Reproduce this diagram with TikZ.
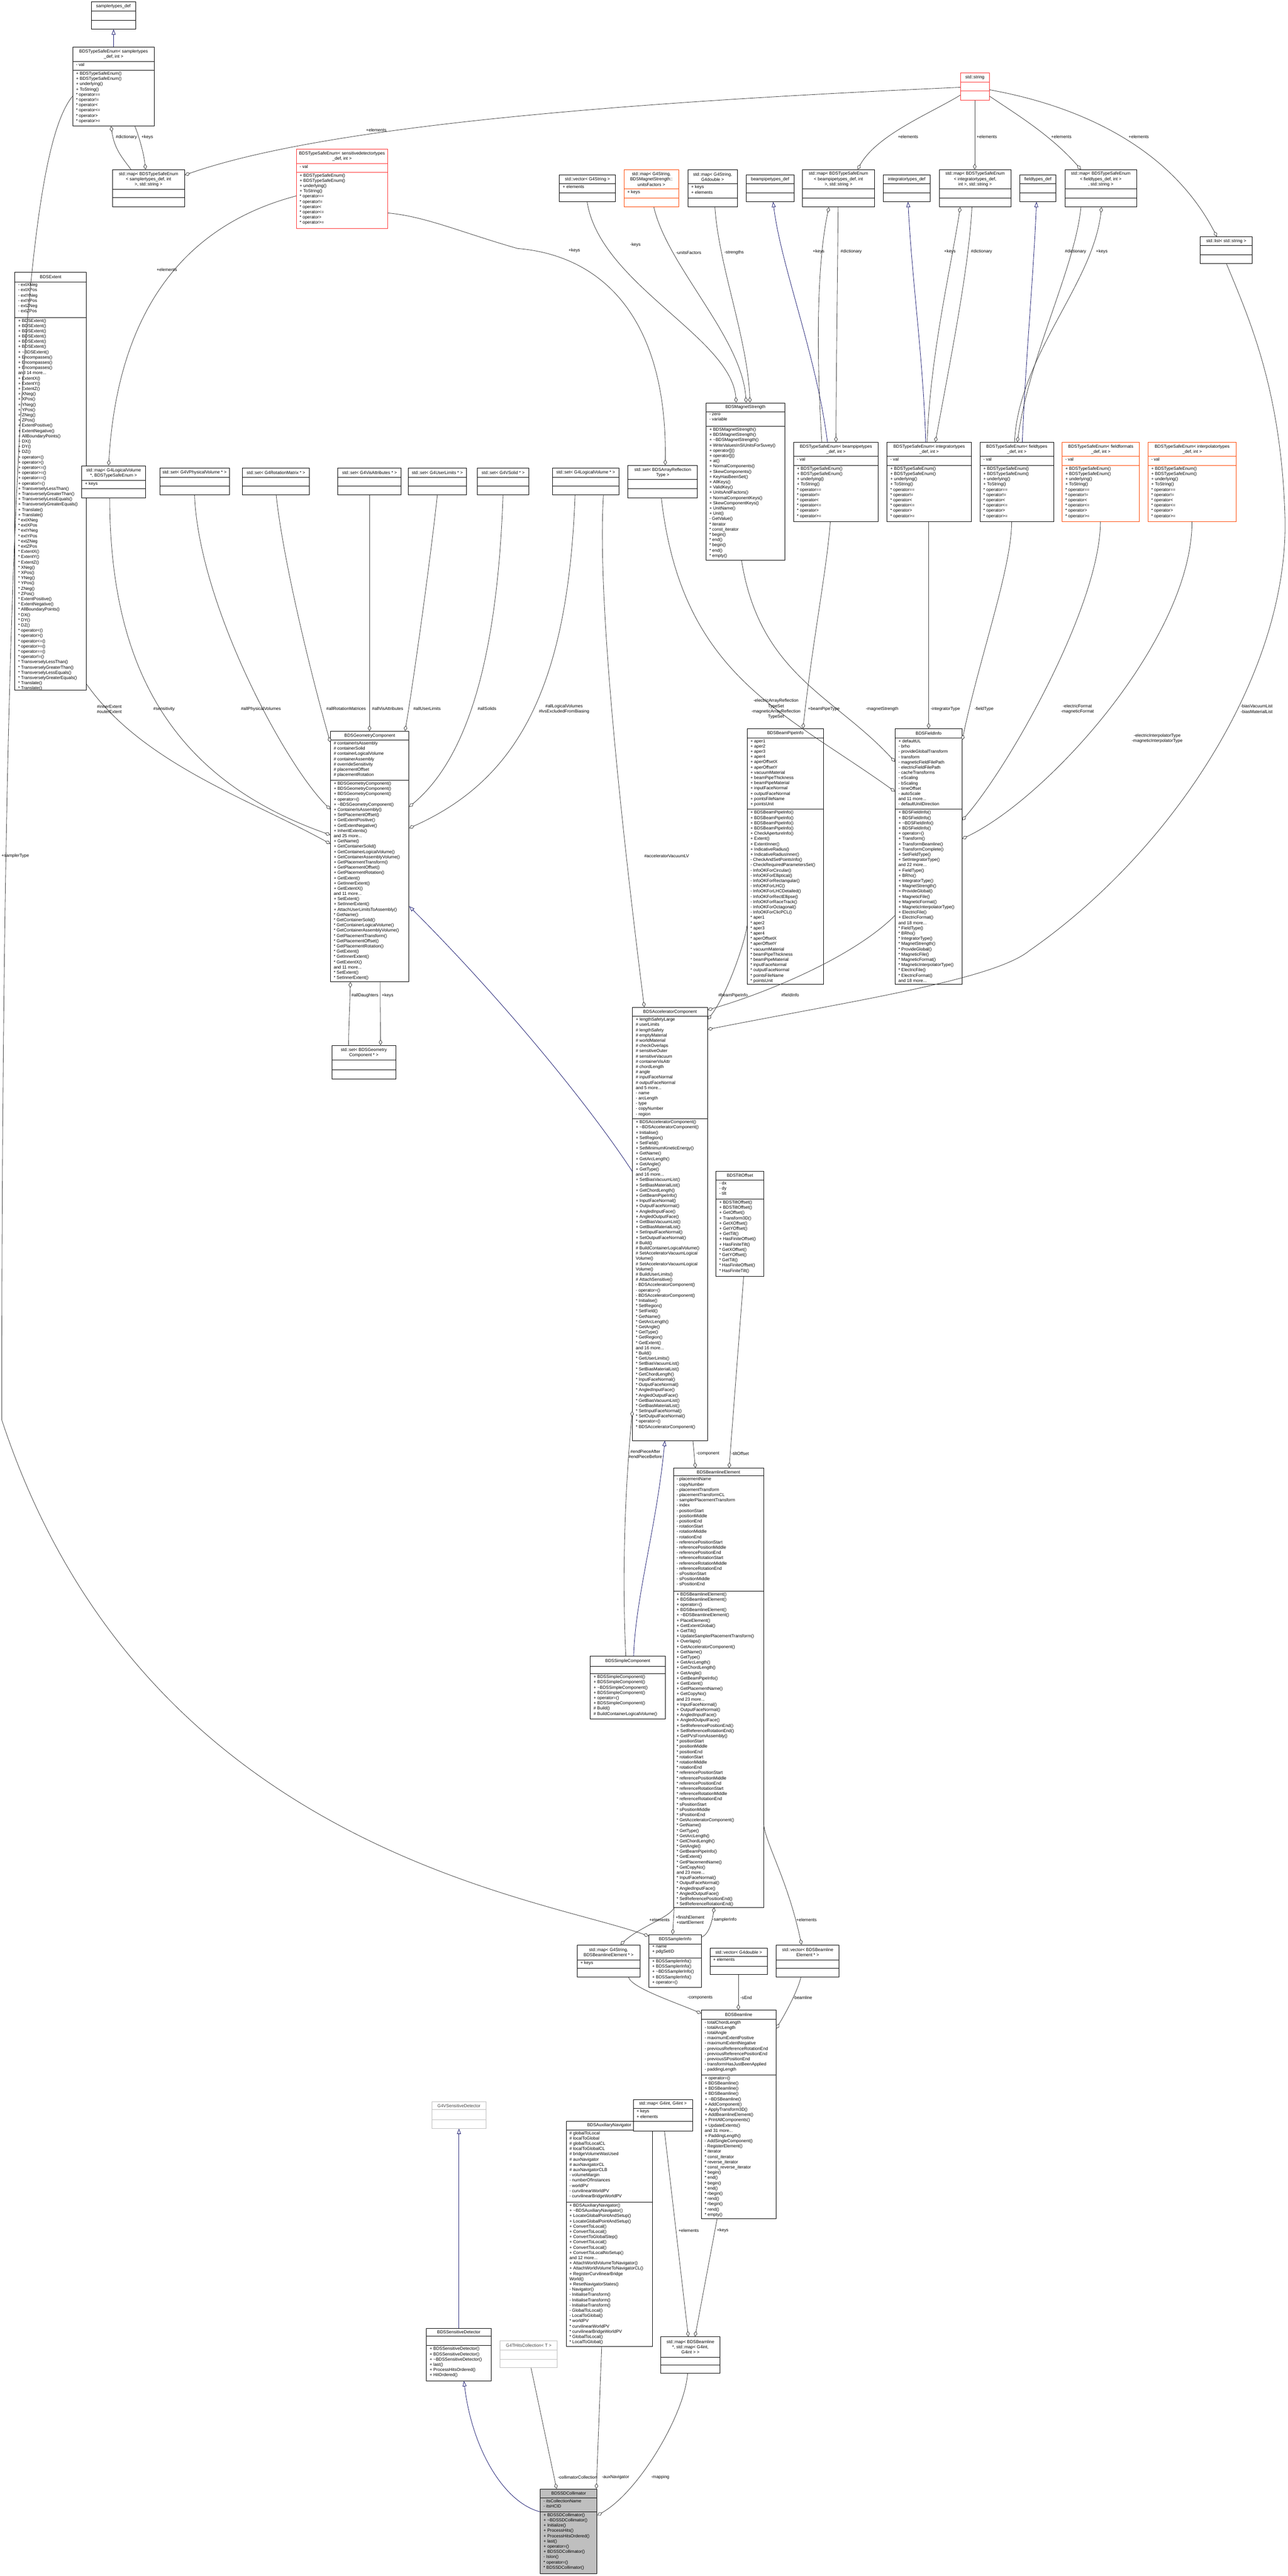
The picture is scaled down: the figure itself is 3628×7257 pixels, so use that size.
\documentclass[tikz,border=0pt]{standalone}
\usepackage{fontspec}
\setmainfont{Liberation Sans}
\usetikzlibrary{fit,arrows.meta}
\definecolor{edgec}{HTML}{404040}
\definecolor{inhc}{HTML}{191970}
\definecolor{redc}{HTML}{FF3030}
\definecolor{orc}{HTML}{FF4500}
\definecolor{grayc}{HTML}{BFBFBF}
\newcommand\umlfont{\fontsize{12.3}{14.8}\selectfont}
\tikzset{
  umlrect/.style={inner sep=0pt, line width=1.3pt, fill=white},
  utitle/.style={align=center, inner sep=0pt, font=\umlfont},
  ulist/.style={align=left, anchor=north west, inner sep=0pt, font=\umlfont},
  lbl/.style={inner sep=0pt, font=\umlfont, align=center},
  agg/.style={draw=edgec, line width=1.2pt, {Diamond[open,fill=white,length=16pt,width=10pt]}-},
  inh/.style={draw=inhc, line width=1.2pt, {Triangle[open,fill=white,length=15pt,width=11pt]}-},
}
\newcommand\ubox[9]{%
  \node[umlrect, draw=#1, fit={(#3,#4)(#5,#8)}] (#2) {};
  \draw[draw=#1, line width=1.3pt] (#3,#6) -- (#5,#6) (#3,#7) -- (#5,#7);
  \node[utitle] (#2-t) at ({(#3+#5)/2},{(#4+#6)/2}) {#9};
  \def\ux{#3}\def\uyh{#6}\def\uya{#7}\def\uname{#2}}
\newcommand\uatt[1]{\node[ulist] (\uname-a) at ({\ux+9},{\uyh+4}) {#1};}
\newcommand\umeth[1]{\node[ulist] (\uname-m) at ({\ux+9},{\uya+4}) {#1};}
\newcommand\enummeth{\umeth{+ BDSTypeSafeEnum()\\+ BDSTypeSafeEnum()\\+ underlying()\\+ ToString()\\{}* operator==\\{}* operator!=\\{}* operator<\\{}* operator<=\\{}* operator>\\{}* operator>=}}
\begin{document}
\begin{tikzpicture}[x=1pt,y=-1pt]
\useasboundingbox (0,0) rectangle (3628,7257);
\fill[white] (0,0) rectangle (3628,7257);

% ---------- top ----------
\ubox{black}{sdef}{257}{5}{382}{31}{57}{82}{samplertypes\_def}
\ubox{black}{esam}{205}{132}{435}{173}{198}{355}{BDSTypeSafeEnum< samplertypes\\\_def, int >}
\uatt{- val}\enummeth
\ubox{black}{msam}{317}{478}{520}{533}{557}{583}{std::map< BDSTypeSafeEnum\\< samplertypes\_def, int\\>, std::string >}
\ubox{redc}{esd}{835}{420}{1092}{461}{485}{643}{BDSTypeSafeEnum< sensitivedetectortypes\\\_def, int >}
\uatt{- val}\enummeth

\ubox{redc}{str}{2706}{205}{2787}{231}{256}{282}{std::string}
\ubox{black}{vgs}{1576}{493}{1734}{518}{543}{568}{std::vector< G4String >}
\uatt{+ elements}
\ubox{orc}{muf}{1758}{478}{1912}{532}{558}{583}{std::map< G4String,\\BDSMagnetStrength::\\unitsFactors >}
\uatt{+ keys}
\ubox{black}{mgd}{1938}{478}{2077}{518}{558}{583}{std::map< G4String,\\G4double >}
\uatt{+ keys\\+ elements}
\ubox{black}{bdef}{2102}{493}{2237}{518}{543}{568}{beampipetypes\_def}
\ubox{black}{mbp}{2261}{478}{2463}{532}{558}{583}{std::map< BDSTypeSafeEnum\\< beampipetypes\_def, int\\>, std::string >}
\ubox{black}{idef}{2488}{493}{2621}{518}{543}{568}{integratortypes\_def}
\ubox{black}{mit}{2646}{478}{2848}{532}{558}{583}{std::map< BDSTypeSafeEnum\\< integratortypes\_def,\\int >, std::string >}
\ubox{black}{fdef}{2873}{493}{2975}{518}{543}{568}{fieldtypes\_def}
\ubox{black}{mft}{3000}{478}{3202}{532}{558}{583}{std::map< BDSTypeSafeEnum\\< fieldtypes\_def, int >\\, std::string >}
\ubox{black}{lst}{3381}{667}{3528}{692}{717}{742}{std::list< std::string >}

% ---------- second band ----------
\ubox{black}{ext}{42}{767}{243}{794}{894}{1944}{BDSExtent}
\uatt{- extXNeg\\- extXPos\\- extYNeg\\- extYPos\\- extZNeg\\- extZPos}
\umeth{+ BDSExtent()\\+ BDSExtent()\\+ BDSExtent()\\+ BDSExtent()\\+ BDSExtent()\\+ BDSExtent()\\+ \textasciitilde BDSExtent()\\+ Encompasses()\\+ Encompasses()\\+ Encompasses()\\and 14 more...\\+ ExtentX()\\+ ExtentY()\\+ ExtentZ()\\+ XNeg()\\+ XPos()\\+ YNeg()\\+ YPos()\\+ ZNeg()\\+ ZPos()\\+ ExtentPositive()\\+ ExtentNegative()\\+ AllBoundaryPoints()\\+ DX()\\+ DY()\\+ DZ()\\+ operator<()\\+ operator>()\\+ operator<=()\\+ operator>=()\\+ operator==()\\+ operator!=()\\+ TransverselyLessThan()\\+ TransverselyGreaterThan()\\+ TransverselyLessEquals()\\+ TransverselyGreaterEquals()\\+ Translate()\\+ Translate()\\{}* extXNeg\\{}* extXPos\\{}* extYNeg\\{}* extYPos\\{}* extZNeg\\{}* extZPos\\{}* ExtentX()\\{}* ExtentY()\\{}* ExtentZ()\\{}* XNeg()\\{}* XPos()\\{}* YNeg()\\{}* YPos()\\{}* ZNeg()\\{}* ZPos()\\{}* ExtentPositive()\\{}* ExtentNegative()\\{}* AllBoundaryPoints()\\{}* DX()\\{}* DY()\\{}* DZ()\\{}* operator<()\\{}* operator>()\\{}* operator<=()\\{}* operator>=()\\{}* operator==()\\{}* operator!=()\\{}* TransverselyLessThan()\\{}* TransverselyGreaterThan()\\{}* TransverselyLessEquals()\\{}* TransverselyGreaterEquals()\\{}* Translate()\\{}* Translate()}

\ubox{black}{mlv}{230}{1312}{410}{1353}{1376}{1402}{std::map< G4LogicalVolume\\*, BDSTypeSafeEnum >}
\uatt{+ keys}
\ubox{black}{spv}{450}{1318}{646}{1344}{1369}{1394}{std::set< G4VPhysicalVolume * >}
\ubox{black}{srm}{683}{1318}{872}{1344}{1369}{1394}{std::set< G4RotationMatrix * >}
\ubox{black}{sva}{952}{1318}{1130}{1344}{1369}{1394}{std::set< G4VisAttributes * >}
\ubox{black}{sul}{1150}{1318}{1314}{1344}{1369}{1394}{std::set< G4UserLimits * >}
\ubox{black}{sso}{1345}{1318}{1490}{1344}{1369}{1394}{std::set< G4VSolid * >}
\ubox{black}{slv}{1556}{1318}{1744}{1344}{1369}{1394}{std::set< G4LogicalVolume * >}
\ubox{black}{sar}{1769}{1311}{1965}{1351}{1377}{1402}{std::set< BDSArrayReflection\\Type >}
\ubox{black}{mst}{1989}{1135}{2211}{1160}{1201}{1578}{BDSMagnetStrength}
\uatt{- zero\\- variable}
\umeth{+ BDSMagnetStrength()\\+ BDSMagnetStrength()\\+ \textasciitilde BDSMagnetStrength()\\+ WriteValuesInSIUnitsForSuvey()\\+ operator[]()\\+ operator[]()\\+ at()\\+ NormalComponents()\\+ SkewComponents()\\+ KeyHasBeenSet()\\+ AllKeys()\\+ ValidKey()\\+ UnitsAndFactors()\\+ NormalComponentKeys()\\+ SkewComponentKeys()\\+ UnitName()\\+ Unit()\\- GetValue()\\{}* iterator\\{}* const\_iterator\\{}* begin()\\{}* end()\\{}* begin()\\{}* end()\\{}* empty()}
\ubox{black}{ebp}{2236}{1246}{2474}{1285}{1311}{1469}{BDSTypeSafeEnum< beampipetypes\\\_def, int >}
\uatt{- val}\enummeth
\ubox{black}{eit}{2499}{1246}{2736}{1285}{1311}{1469}{BDSTypeSafeEnum< integratortypes\\\_def, int >}
\uatt{- val}\enummeth
\ubox{black}{eft}{2761}{1246}{2968}{1285}{1311}{1469}{BDSTypeSafeEnum< fieldtypes\\\_def, int >}
\uatt{- val}\enummeth
\ubox{orc}{eff}{2992}{1246}{3210}{1285}{1311}{1469}{BDSTypeSafeEnum< fieldformats\\\_def, int >}
\uatt{- val}\enummeth
\ubox{orc}{eip}{3234}{1246}{3483}{1285}{1311}{1469}{BDSTypeSafeEnum< interpolatortypes\\\_def, int >}
\uatt{- val}\enummeth

% ---------- middle ----------
\ubox{black}{geo}{931}{2060}{1152}{2085}{2198}{2766}{BDSGeometryComponent}
\uatt{\# containerIsAssembly\\\# containerSolid\\\# containerLogicalVolume\\\# containerAssembly\\\# overrideSensitivity\\\# placementOffset\\\# placementRotation}
\umeth{+ BDSGeometryComponent()\\+ BDSGeometryComponent()\\+ BDSGeometryComponent()\\+ operator=()\\+ \textasciitilde BDSGeometryComponent()\\+ ContainerIsAssembly()\\+ SetPlacementOffset()\\+ GetExtentPositive()\\+ GetExtentNegative()\\+ InheritExtents()\\and 25 more...\\+ GetName()\\+ GetContainerSolid()\\+ GetContainerLogicalVolume()\\+ GetContainerAssemblyVolume()\\+ GetPlacementTransform()\\+ GetPlacementOffset()\\+ GetPlacementRotation()\\+ GetExtent()\\+ GetInnerExtent()\\+ GetExtentX()\\and 11 more...\\+ SetExtent()\\+ SetInnerExtent()\\+ AttachUserLimitsToAssembly()\\{}* GetName()\\{}* GetContainerSolid()\\{}* GetContainerLogicalVolume()\\{}* GetContainerAssemblyVolume()\\{}* GetPlacementTransform()\\{}* GetPlacementOffset()\\{}* GetPlacementRotation()\\{}* GetExtent()\\{}* GetInnerExtent()\\{}* GetExtentX()\\and 11 more...\\{}* SetExtent()\\{}* SetInnerExtent()}
\ubox{black}{sgc}{935}{2945}{1115}{2986}{3013}{3040}{std::set< BDSGeometry\\Component * >}

\ubox{black}{bpi}{2105}{2053}{2320}{2079}{2280}{2773}{BDSBeamPipeInfo}
\uatt{+ aper1\\+ aper2\\+ aper3\\+ aper4\\+ aperOffsetX\\+ aperOffsetY\\+ vacuumMaterial\\+ beamPipeThickness\\+ beamPipeMaterial\\+ inputFaceNormal\\+ outputFaceNormal\\+ pointsFileName\\+ pointsUnit}
\umeth{+ BDSBeamPipeInfo()\\+ BDSBeamPipeInfo()\\+ BDSBeamPipeInfo()\\+ BDSBeamPipeInfo()\\+ CheckApertureInfo()\\+ Extent()\\+ ExtentInner()\\+ IndicativeRadius()\\+ IndicativeRadiusInner()\\- CheckAndSetPointsInfo()\\- CheckRequiredParametersSet()\\- InfoOKForCircular()\\- InfoOKForElliptical()\\- InfoOKForRectangular()\\- InfoOKForLHC()\\- InfoOKForLHCDetailed()\\- InfoOKForRectEllipse()\\- InfoOKForRaceTrack()\\- InfoOKForOctagonal()\\- InfoOKForClicPCL()\\{}* aper1\\{}* aper2\\{}* aper3\\{}* aper4\\{}* aperOffsetX\\{}* aperOffsetY\\{}* vacuumMaterial\\{}* beamPipeThickness\\{}* beamPipeMaterial\\{}* inputFaceNormal\\{}* outputFaceNormal\\{}* pointsFileName\\{}* pointsUnit}

\ubox{black}{fin}{2522}{2053}{2710}{2079}{2280}{2773}{BDSFieldInfo}
\uatt{+ defaultUL\\- brho\\- provideGlobalTransform\\- transform\\- magneticFieldFilePath\\- electricFieldFilePath\\- cacheTransforms\\- eScaling\\- bScaling\\- timeOffset\\- autoScale\\and 11 more...\\- defaultUnitDirection}
\umeth{+ BDSFieldInfo()\\+ BDSFieldInfo()\\+ \textasciitilde BDSFieldInfo()\\+ BDSFieldInfo()\\+ operator=()\\+ Transform()\\+ TransformBeamline()\\+ TransformComplete()\\+ SetFieldType()\\+ SetIntegratorType()\\and 22 more...\\+ FieldType()\\+ BRho()\\+ IntegratorType()\\+ MagnetStrength()\\+ ProvideGlobal()\\+ MagneticFile()\\+ MagneticFormat()\\+ MagneticInterpolatorType()\\+ ElectricFile()\\+ ElectricFormat()\\and 18 more...\\{}* FieldType()\\{}* BRho()\\{}* IntegratorType()\\{}* MagnetStrength()\\{}* ProvideGlobal()\\{}* MagneticFile()\\{}* MagneticFormat()\\{}* MagneticInterpolatorType()\\{}* ElectricFile()\\{}* ElectricFormat()\\and 18 more...}

\ubox{black}{acc}{1782}{2838}{1993}{2863}{3152}{4058}{BDSAcceleratorComponent}
\uatt{+ lengthSafetyLarge\\\# userLimits\\\# lengthSafety\\\# emptyMaterial\\\# worldMaterial\\\# checkOverlaps\\\# sensitiveOuter\\\# sensitiveVacuum\\\# containerVisAttr\\\# chordLength\\\# angle\\\# inputFaceNormal\\\# outputFaceNormal\\and 5 more...\\- name\\- arcLength\\- type\\- copyNumber\\- region}
\umeth{+ BDSAcceleratorComponent()\\+ \textasciitilde BDSAcceleratorComponent()\\+ Initialise()\\+ SetRegion()\\+ SetField()\\+ SetMinimumKineticEnergy()\\+ GetName()\\+ GetArcLength()\\+ GetAngle()\\+ GetType()\\and 16 more...\\+ SetBiasVacuumList()\\+ SetBiasMaterialList()\\+ GetChordLength()\\+ GetBeamPipeInfo()\\+ InputFaceNormal()\\+ OutputFaceNormal()\\+ AngledInputFace()\\+ AngledOutputFace()\\+ GetBiasVacuumList()\\+ GetBiasMaterialList()\\+ SetInputFaceNormal()\\+ SetOutputFaceNormal()\\\# Build()\\\# BuildContainerLogicalVolume()\\\# SetAcceleratorVacuumLogical\\Volume()\\\# SetAcceleratorVacuumLogical\\Volume()\\\# BuildUserLimits()\\\# AttachSensitive()\\- BDSAcceleratorComponent()\\- operator=()\\- BDSAcceleratorComponent()\\{}* Initialise()\\{}* SetRegion()\\{}* SetField()\\{}* GetName()\\{}* GetArcLength()\\{}* GetAngle()\\{}* GetType()\\{}* GetRegion()\\{}* GetExtent()\\and 16 more...\\{}* Build()\\{}* GetUserLimits()\\{}* SetBiasVacuumList()\\{}* SetBiasMaterialList()\\{}* GetChordLength()\\{}* InputFaceNormal()\\{}* OutputFaceNormal()\\{}* AngledInputFace()\\{}* AngledOutputFace()\\{}* GetBiasVacuumList()\\{}* GetBiasMaterialList()\\{}* SetInputFaceNormal()\\{}* SetOutputFaceNormal()\\{}* operator=()\\{}* BDSAcceleratorComponent()}

\ubox{black}{tilt}{2017}{3300}{2152}{3324}{3378}{3596}{BDSTiltOffset}
\uatt{- dx\\- dy\\- tilt}
\umeth{+ BDSTiltOffset()\\+ BDSTiltOffset()\\+ GetOffset()\\+ Transform3D()\\+ GetXOffset()\\+ GetYOffset()\\+ GetTilt()\\+ HasFiniteOffset()\\+ HasFiniteTilt()\\{}* GetXOffset()\\{}* GetYOffset()\\{}* GetTilt()\\{}* HasFiniteOffset()\\{}* HasFiniteTilt()}

\ubox{black}{ble}{1897}{4136}{2151}{4158}{4482}{5373}{BDSBeamlineElement}
\uatt{- placementName\\- copyNumber\\- placementTransform\\- placementTransformCL\\- samplerPlacementTransform\\- index\\- positionStart\\- positionMiddle\\- positionEnd\\- rotationStart\\- rotationMiddle\\- rotationEnd\\- referencePositionStart\\- referencePositionMiddle\\- referencePositionEnd\\- referenceRotationStart\\- referenceRotationMiddle\\- referenceRotationEnd\\- sPositionStart\\- sPositionMiddle\\- sPositionEnd}
\umeth{+ BDSBeamlineElement()\\+ BDSBeamlineElement()\\+ operator=()\\+ BDSBeamlineElement()\\+ \textasciitilde BDSBeamlineElement()\\+ PlaceElement()\\+ GetExtentGlobal()\\+ GetTilt()\\+ UpdateSamplerPlacementTransform()\\+ Overlaps()\\+ GetAcceleratorComponent()\\+ GetName()\\+ GetType()\\+ GetArcLength()\\+ GetChordLength()\\+ GetAngle()\\+ GetBeamPipeInfo()\\+ GetExtent()\\+ GetPlacementName()\\+ GetCopyNo()\\and 23 more...\\+ InputFaceNormal()\\+ OutputFaceNormal()\\+ AngledInputFace()\\+ AngledOutputFace()\\+ SetReferencePositionEnd()\\+ SetReferenceRotationEnd()\\+ GetPVsFromAssembly()\\{}* positionStart\\{}* positionMiddle\\{}* positionEnd\\{}* rotationStart\\{}* rotationMiddle\\{}* rotationEnd\\{}* referencePositionStart\\{}* referencePositionMiddle\\{}* referencePositionEnd\\{}* referenceRotationStart\\{}* referenceRotationMiddle\\{}* referenceRotationEnd\\{}* sPositionStart\\{}* sPositionMiddle\\{}* sPositionEnd\\{}* GetAcceleratorComponent()\\{}* GetName()\\{}* GetType()\\{}* GetArcLength()\\{}* GetChordLength()\\{}* GetAngle()\\{}* GetBeamPipeInfo()\\{}* GetExtent()\\{}* GetPlacementName()\\{}* GetCopyNo()\\and 23 more...\\{}* InputFaceNormal()\\{}* OutputFaceNormal()\\{}* AngledInputFace()\\{}* AngledOutputFace()\\{}* SetReferencePositionEnd()\\{}* SetReferenceRotationEnd()}

\ubox{black}{simp}{1663}{4666}{1874}{4694}{4715}{4843}{BDSSimpleComponent}
\umeth{+ BDSSimpleComponent()\\+ BDSSimpleComponent()\\+ \textasciitilde BDSSimpleComponent()\\+ BDSSimpleComponent()\\+ operator=()\\+ BDSSimpleComponent()\\\# Build()\\\# BuildContainerLogicalVolume()}

% ---------- bottom ----------
\ubox{black}{mgb}{1626}{5479}{1803}{5521}{5545}{5570}{std::map< G4String,\\BDSBeamlineElement * >}
\uatt{+ keys}
\ubox{black}{sinfo}{1828}{5450}{1976}{5476}{5516}{5599}{BDSSamplerInfo}
\uatt{+ name\\+ pdgSetID}
\umeth{+ BDSSamplerInfo()\\+ BDSSamplerInfo()\\+ \textasciitilde BDSSamplerInfo()\\+ BDSSamplerInfo()\\+ operator=()}
\ubox{black}{vgd}{2000}{5488}{2162}{5512}{5539}{5563}{std::vector< G4double >}
\uatt{+ elements}
\ubox{black}{vbe}{2187}{5479}{2364}{5521}{5545}{5570}{std::vector< BDSBeamline\\Element * >}
\ubox{black}{bl}{1976}{5663}{2186}{5688}{5845}{6251}{BDSBeamline}
\uatt{- totalChordLength\\- totalArcLength\\- totalAngle\\- maximumExtentPositive\\- maximumExtentNegative\\- previousReferenceRotationEnd\\- previousReferencePositionEnd\\- previousSPositionEnd\\- transformHasJustBeenApplied\\- paddingLength}
\umeth{+ operator=()\\+ BDSBeamline()\\+ BDSBeamline()\\+ BDSBeamline()\\+ \textasciitilde BDSBeamline()\\+ AddComponent()\\+ ApplyTransform3D()\\+ AddBeamlineElement()\\+ PrintAllComponents()\\+ UpdateExtents()\\and 31 more...\\+ PaddingLength()\\- AddSingleComponent()\\- RegisterElement()\\{}* iterator\\{}* const\_iterator\\{}* reverse\_iterator\\{}* const\_reverse\_iterator\\{}* begin()\\{}* end()\\{}* begin()\\{}* end()\\{}* rbegin()\\{}* rend()\\{}* rbegin()\\{}* rend()\\{}* empty()}

\ubox{grayc}{gsd}{1217}{5921}{1369}{5943}{5971}{5996}{\textcolor{edgec}{G4VSensitiveDetector}}
\ubox{black}{bsd}{1201}{6559}{1384}{6581}{6608}{6707}{BDSSensitiveDetector}
\umeth{+ BDSSensitiveDetector()\\+ BDSSensitiveDetector()\\+ \textasciitilde BDSSensitiveDetector()\\+ last()\\+ ProcessHitsOrdered()\\+ HitOrdered()}
\ubox{grayc}{ghc}{1409}{6595}{1570}{6620}{6646}{6670}{\textcolor{edgec}{G4THitsCollection< T >}}
\ubox{black}{aux}{1595}{5976}{1838}{6000}{6204}{6610}{BDSAuxiliaryNavigator}
\uatt{\# globalToLocal\\\# localToGlobal\\\# globalToLocalCL\\\# localToGlobalCL\\\# bridgeVolumeWasUsed\\\# auxNavigator\\\# auxNavigatorCL\\\# auxNavigatorCLB\\- volumeMargin\\- numberOfInstances\\- worldPV\\- curvilinearWorldPV\\- curvilinearBridgeWorldPV}
\umeth{+ BDSAuxiliaryNavigator()\\+ \textasciitilde BDSAuxiliaryNavigator()\\+ LocateGlobalPointAndSetup()\\+ LocateGlobalPointAndSetup()\\+ ConvertToLocal()\\+ ConvertToLocal()\\+ ConvertToGlobalStep()\\+ ConvertToLocal()\\+ ConvertToLocal()\\+ ConvertToLocalNoSetup()\\and 12 more...\\+ AttachWorldVolumeToNavigator()\\+ AttachWorldVolumeToNavigatorCL()\\+ RegisterCurvilinearBridge\\World()\\+ ResetNavigatorStates()\\- Navigator()\\- InitialiseTransform()\\- InitialiseTransform()\\- InitialiseTransform()\\- GlobalToLocal()\\- LocalToGlobal()\\{}* worldPV\\{}* curvilinearWorldPV\\{}* curvilinearBridgeWorldPV\\{}* GlobalToLocal()\\{}* LocalToGlobal()}
\ubox{black}{mii}{1784}{5915}{1951}{5939}{5976}{6004}{std::map< G4int, G4int >}
\uatt{+ keys\\+ elements}
\ubox{black}{mbm}{1862}{6583}{2028}{6640}{6663}{6685}{std::map< BDSBeamline\\*, std::map< G4int,\\G4int > >}
\node[fill=grayc, draw=black, line width=1.3pt, fit={(1522,7012)(1682,7251)}, inner sep=0pt] (col) {};
\draw[line width=1.3pt] (1522,7037) -- (1682,7037) (1522,7076) -- (1682,7076);
\node[utitle] (col-t) at (1602,7024) {BDSSDCollimator};
\node[ulist] (col-a) at (1531,7041) {- itsCollectionName\\- itsHCID};
\node[ulist] (col-m) at (1531,7080) {+ BDSSDCollimator()\\+ \textasciitilde BDSSDCollimator()\\+ Initialize()\\+ ProcessHits()\\+ ProcessHitsOrdered()\\+ last()\\+ operator=()\\+ BDSSDCollimator()\\- IsIon()\\{}* operator=()\\{}* BDSSDCollimator()};

% ---------- edges: top ----------
\draw[inh] (sdef.south -| 320,0) -- (esam.north -| 320,0);
\draw[agg] (esam.south -| 313,0) .. controls (322,420) and (345,445) .. (msam.north -| 369,0);
\draw[agg] (msam.north -| 410,0) .. controls (405,430) and (390,380) .. (esam.south -| 380,0);
\node[lbl] (l-dict) at (356,386) {\#dictionary};
\node[lbl] (l-keys1) at (415,386) {+keys};
\draw[agg] (msam.east |- 0,493) .. controls (900,360) and (1700,290) .. (str.west |- 0,246);
\node[lbl] (l-e0) at (1060,366) {+elements};
\draw[agg] (mbp.north -| 2416,0) .. controls (2470,380) and (2620,320) .. (str.west |- 0,268);
\draw[agg] (mit.north -| 2746,0) -- (str.south -| 2746,0);
\draw[agg] (mft.north -| 3045,0) .. controls (2960,380) and (2860,320) .. (str.east |- 0,271);
\draw[agg] (lst.north -| 3428,0) .. controls (3300,420) and (3050,300) .. (str.east |- 0,253);
\node[lbl] (l-e1) at (2558,386) {+elements};
\node[lbl] (l-e2) at (2780,386) {+elements};
\node[lbl] (l-e3) at (2990,386) {+elements};
\node[lbl] (l-e4) at (3208,386) {+elements};

\draw[agg] (mlv.north -| 306,0) .. controls (330,900) and (500,640) .. (esd.west |- 0,552);
\node[lbl] (l-e5) at (470,760) {+elements};
\draw[agg] (sar.north -| 1874,0) .. controls (1880,900) and (1700,720) .. (1458,700) .. controls (1300,655) and (1200,610) .. (esd.east |- 0,600);
\node[lbl] (l-k5) at (1618,706) {+keys};

\draw[inh] (bdef.south -| 2178,0) .. controls (2200,750) and (2300,1000) .. (ebp.north -| 2331,0);
\draw[agg] (mbp.south -| 2335,0) .. controls (2300,750) and (2300,1000) .. (ebp.north -| 2315,0);
\draw[agg] (ebp.north -| 2355,0) .. controls (2356,1000) and (2360,750) .. (mbp.south -| 2361,0);
\node[lbl] (l-kb) at (2306,708) {+keys};
\node[lbl] (l-db) at (2398,708) {\#dictionary};
\draw[inh] (idef.south -| 2558,0) .. controls (2570,800) and (2600,1000) .. (eit.north -| 2608,0);
\draw[agg] (mit.south -| 2705,0) .. controls (2680,750) and (2620,1000) .. (eit.north -| 2612,0);
\draw[agg] (eit.north -| 2635,0) .. controls (2680,1000) and (2730,750) .. (mit.south -| 2738,0);
\node[lbl] (l-ki) at (2676,708) {+keys};
\node[lbl] (l-di) at (2765,708) {\#dictionary};
\draw[inh] (fdef.south -| 2920,0) .. controls (2910,800) and (2890,1000) .. (eft.north -| 2880,0);
\draw[agg] (mft.south -| 3103,0) .. controls (3080,800) and (2870,1000) .. (eft.north -| 2858,0);
\draw[agg] (eft.north -| 2866,0) .. controls (2900,1000) and (3030,750) .. (mft.south -| 3045,0);
\node[lbl] (l-df) at (3030,708) {\#dictionary};
\node[lbl] (l-kf) at (3104,708) {+keys};

\draw[agg] (mst.north -| 2074,0) .. controls (2060,950) and (1690,800) .. (vgs.south -| 1654,0);
\draw[agg] (mst.north -| 2102,0) .. controls (2090,950) and (1880,750) .. (muf.south -| 1842,0);
\draw[agg] (mst.north -| 2113,0) .. controls (2105,950) and (2025,750) .. (mgd.south -| 2014,0);
\node[lbl] (l-k2) at (1790,690) {-keys};
\node[lbl] (l-uf) at (1940,712) {-unitsFactors};
\node[lbl] (l-sg) at (2068,712) {-strengths};

% ---------- edges: geometry component ----------
\draw[agg] (geo.east |- 0,2273) .. controls (1300,2150) and (1400,1900) .. (sso.south -| 1417,0);
\draw[agg] (geo.east |- 0,2333) .. controls (1450,2200) and (1600,1950) .. (slv.south -| 1620,0);
\draw[agg] (geo.north -| 1041,0) -- (sva.south -| 1041,0);
\draw[agg] (geo.north -| 1141,0) .. controls (1160,1950) and (1210,1600) .. (sul.south -| 1232,0);
\draw[agg] (geo.west |- 0,2091) .. controls (890,1950) and (800,1600) .. (srm.south -| 778,0);
\draw[agg] (geo.west |- 0,2280) .. controls (800,2150) and (560,1700) .. (spv.south -| 548,0);
\node[lbl] (l-pv) at (735,1997) {\#allPhysicalVolumes};
\node[lbl] (l-rm) at (975,1997) {\#allRotationMatrices};
\node[lbl] (l-va) at (1092,1997) {\#allVisAttributes};
\node[lbl] (l-ul) at (1203,1997) {\#allUserLimits};
\node[lbl] (l-so) at (1372,1997) {\#allSolids};
\node[lbl] (l-lv) at (1589,1997) {\#allLogicalVolumes\\\#lvsExcludedFromBiasing};
\draw[agg] (geo.west |- 0,2377) .. controls (700,2250) and (400,2150) .. (ext.east |- 0,1927);
\node[lbl] (l-ie) at (308,1998) {\#innerExtent\\\#outerExtent};
\draw[agg] (geo.west |- 0,2352) .. controls (500,2200) and (310,1900) .. (mlv.south -| 309,0);
\node[lbl] (l-sn) at (462,1997) {\#sensitivity};
\draw[agg] (geo.south -| 987,0) .. controls (985,2850) and (982,2900) .. (sgc.north -| 982,0);
\draw[agg] (sgc.north -| 1072,0) .. controls (1072,2900) and (1071,2850) .. (geo.south -| 1071,0);
\node[lbl] (l-ad) at (1028,2804) {\#allDaughters};
\node[lbl] (l-k3) at (1092,2804) {+keys};
\draw[inh] (geo.east |- 0,2553) .. controls (1400,2800) and (1650,3100) .. (acc.west |- 0,3300);

% ---------- edges: field info etc ----------
\draw[agg] (fin.west |- 0,2230) .. controls (2200,2000) and (1920,1900) .. (sar.south -| 1863,0);
\node[lbl] (l-ar) at (2186,1997) {-electricArrayReflection\\TypeSet\\-magneticArrayReflection\\TypeSet};
\draw[agg] (fin.west |- 0,2146) .. controls (2350,1960) and (2140,1900) .. (mst.south -| 2089,0);
\node[lbl] (l-ms) at (2485,1997) {-magnetStrength};
\draw[agg] (bpi.north -| 2262,0) .. controls (2290,1800) and (2330,1600) .. (ebp.south -| 2339,0);
\node[lbl] (l-bt) at (2321,1997) {+beamPipeType};
\draw[agg] (fin.north -| 2616,0) -- (eit.south -| 2616,0);
\node[lbl] (l-it) at (2663,1997) {-integratorType};
\draw[agg] (fin.east |- 0,2085) .. controls (2760,1850) and (2850,1600) .. (eft.south -| 2850,0);
\node[lbl] (l-ft) at (2772,1997) {-fieldType};
\draw[agg] (fin.east |- 0,2311) .. controls (2850,2150) and (3100,1700) .. (eff.south -| 3100,0);
\node[lbl] (l-ef) at (3035,1997) {-electricFormat\\-magneticFormat};
\draw[agg] (fin.east |- 0,2363) .. controls (2950,2250) and (3358,1800) .. (eip.south -| 3358,0);
\node[lbl] (l-ei) at (3260,2080) {-electricInterpolatorType\\-magneticInterpolatorType};
\draw[agg] (acc.north -| 1815,0) .. controls (1760,2400) and (1680,1700) .. (slv.south -| 1700,0);
\node[lbl] (l-av) at (1878,2412) {\#acceleratorVacuumLV};
\draw[agg] (acc.east |- 0,2872) .. controls (2050,2800) and (2100,2650) .. (bpi.west |- 0,2608);
\draw[agg] (acc.east |- 0,2845) .. controls (2150,2800) and (2400,2700) .. (fin.west |- 0,2579);
\draw[agg] (acc.east |- 0,2900) .. controls (2400,2820) and (2800,2760) .. (2900,2678) .. controls (3300,2400) and (3630,1900) .. (3620,1460) .. controls (3610,1100) and (3520,900) .. (lst.south -| 3455,0);
\node[lbl] (l-bv) at (3540,1997) {-biasVacuumList\\-biasMaterialList};
\node[lbl] (l-bpi) at (2065,2804) {\#beamPipeInfo};
\node[lbl] (l-fi) at (2226,2804) {\#fieldInfo};

% ---------- edges: lower middle ----------
\draw[agg] (acc.west |- 0,3975) .. controls (1765,4150) and (1750,4400) .. (simp.north -| 1763,0);
\draw[inh] (acc.south -| 1873,0) .. controls (1850,4300) and (1790,4500) .. (simp.north -| 1785,0);
\node[lbl] (l-ep) at (1818,4096) {\#endPieceAfter\\\#endPieceBefore};
\draw[agg] (ble.north -| 1959,0) -- (acc.south -| 1952,0);
\draw[agg] (ble.north -| 2054,0) -- (tilt.south -| 2095,0);
\node[lbl] (l-co) at (1994,4095) {-component};
\node[lbl] (l-to) at (2085,4095) {-tiltOffset};

% ---------- edges: bottom ----------
\draw[agg] (mgb.north -| 1748,0) .. controls (1800,5430) and (1890,5400) .. (ble.south -| 1899,0);
\draw[agg] (sinfo.north -| 1895,0) -- (ble.south -| 1899,0);
\draw[agg] (ble.south -| 2012,0) .. controls (2005,5420) and (1995,5450) .. (sinfo.east |- 0,5457);
\draw[agg] (vbe.north -| 2258,0) .. controls (2220,5300) and (2160,5200) .. (ble.east |- 0,5142);
\node[lbl] (l-be) at (1858,5409) {+elements};
\node[lbl] (l-fe) at (1944,5408) {+finishElement\\+startElement};
\node[lbl] (l-si) at (2041,5409) {-samplerInfo};
\node[lbl] (l-be2) at (2272,5409) {+elements};
\draw[agg] (bl.west |- 0,5672) .. controls (1900,5640) and (1780,5600) .. (mgb.south -| 1771,0);
\draw[agg] (bl.north -| 2080,0) -- (vgd.south -| 2080,0);
\draw[agg] (bl.east |- 0,5715) .. controls (2220,5660) and (2250,5600) .. (vbe.south -| 2256,0);
\node[lbl] (l-cp) at (1972,5628) {-components};
\node[lbl] (l-se) at (2102,5628) {-sEnd};
\node[lbl] (l-bl) at (2261,5628) {-beamline};
\draw[agg] (sinfo.west |- 0,5454) .. controls (1500,5340) and (400,5200) .. (5,4000) .. controls (5,1000) and (100,400) .. (esam.west |- 0,271);
\node[lbl] (l-st) at (43,2411) {+samplerType};

\draw[inh] (gsd.south -| 1293,0) -- (bsd.north -| 1293,0);
\draw[inh] (bsd.south -| 1307,0) .. controls (1330,6900) and (1420,7050) .. (col.west |- 0,7076);
\draw[agg] (col.north -| 1568,0) -- (ghc.south -| 1496,0);
\draw[agg] (col.north -| 1680,0) -- (aux.south -| 1695,0);
\draw[agg] (col.east |- 0,7086) .. controls (1800,7020) and (1930,6800) .. (mbm.south -| 1937,0);
\draw[agg] (mbm.north -| 1939,0) -- (mii.south -| 1872,0);
\draw[agg] (mbm.north -| 1958,0) -- (bl.south -| 2020,0);
\node[lbl] (l-cc) at (1627,6979) {-collimatorCollection};
\node[lbl] (l-an) at (1734,6979) {-auxNavigator};
\node[lbl] (l-mp) at (1860,6979) {-mapping};
\node[lbl] (l-el) at (1940,6283) {+elements};
\node[lbl] (l-k4) at (2036,6283) {+keys};
\end{tikzpicture}
\end{document}
